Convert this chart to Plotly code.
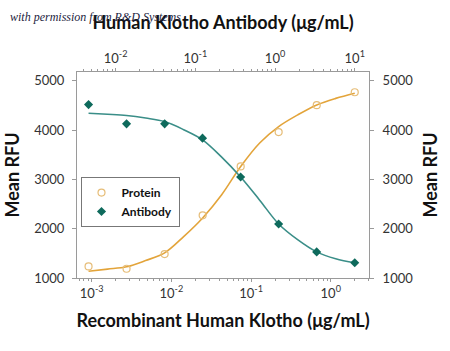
import plotly.graph_objects as go

# ---- data ----
protein_conc = [0.000914, 0.00274, 0.00823, 0.0247, 0.0741, 0.222, 0.667, 2.0]
protein_rfu = [1235, 1188, 1485, 2271, 3263, 3960, 4506, 4769]

antibody_conc = [0.00457, 0.0137, 0.0412, 0.123, 0.370, 1.11, 3.33, 10.0]
antibody_rfu = [4518, 4128, 4128, 3838, 3049, 2097, 1530, 1308]

# fitted curves
protein_fit_x = [0.000914, 0.00158, 0.00274, 0.00475, 0.00823, 0.01426, 0.0247,
                 0.0428, 0.0741, 0.1283, 0.222, 0.385, 0.667, 1.155, 2.0]
protein_fit_y = [1138, 1180, 1227, 1354, 1510, 1840, 2219, 2690, 3263, 3740,
                 4073, 4310, 4512, 4645, 4749]
antibody_fit_x = [0.00457, 0.00792, 0.0137, 0.0238, 0.0412, 0.0713, 0.123,
                  0.214, 0.370, 0.641, 1.11, 1.92, 3.33, 5.77, 10.0]
antibody_fit_y = [4344, 4322, 4296, 4245, 4174, 4010, 3804, 3453, 3049, 2580,
                  2097, 1779, 1530, 1390, 1308]

bottom_ticks = [0.001, 0.01, 0.1, 1]
bottom_labels = ["10<sup>-3</sup>", "10<sup>-2</sup>", "10<sup>-1</sup>", "10<sup>0</sup>"]
top_ticks = [0.01, 0.1, 1, 10]
top_labels = ["10<sup>-2</sup>", "10<sup>-1</sup>", "10<sup>0</sup>", "10<sup>1</sup>"]
y_ticks = [1000, 2000, 3000, 4000, 5000]

FONT = "Lato, Roboto, sans-serif"
ORANGE_M = "#E6BD78"
ORANGE_L = "#E3A43A"
TEAL_M = "#0E6A5C"
TEAL_L = "#3A8E88"
AX = "#9A9A9A"

def minor_vals(lo, hi):
    out = []
    for e in range(lo, hi + 1):
        for d in range(2, 10):
            out.append(d * 10 ** e)
    return out

fig = go.Figure()
fig.add_trace(go.Scatter(x=protein_fit_x, y=protein_fit_y, mode="lines",
                         line=dict(color=ORANGE_L, width=1.6, shape="spline"),
                         showlegend=False, hoverinfo="skip"))
fig.add_trace(go.Scatter(x=antibody_fit_x, y=antibody_fit_y, mode="lines", xaxis="x2",
                         line=dict(color=TEAL_L, width=1.6, shape="spline"),
                         showlegend=False, hoverinfo="skip"))
fig.add_trace(go.Scatter(x=protein_conc, y=protein_rfu, mode="markers", name="Protein",
                         marker=dict(symbol="circle-open", size=7,
                                     line=dict(color=ORANGE_M, width=1.2), color=ORANGE_M)))
fig.add_trace(go.Scatter(x=antibody_conc, y=antibody_rfu, mode="markers", name="Antibody",
                         xaxis="x2",
                         marker=dict(symbol="diamond", size=7, color=TEAL_M)))

tickfont = dict(family=FONT, size=13, color="#333333")
titlefont = dict(family=FONT, size=18, color="#111111", weight="bold")

fig.update_layout(
    width=450, height=351,
    margin=dict(l=77, r=75, t=72, b=73),
    paper_bgcolor="white", plot_bgcolor="white",
    font=dict(family=FONT),
    xaxis=dict(type="log", range=[-3.184, 0.48], side="bottom",
               tickvals=bottom_ticks, ticktext=bottom_labels, tickfont=tickfont,
               ticks="outside", ticklen=3, tickcolor=AX,
               minor=dict(tickvals=minor_vals(-4, 0), ticks="outside", ticklen=2, tickcolor=AX),
               showline=True, linecolor=AX, linewidth=1, showgrid=False, zeroline=False,
               title=dict(text="Recombinant Human Klotho (\u03bcg/mL)", font=titlefont, standoff=14)),
    xaxis2=dict(type="log", range=[-2.485, 1.179], side="top", overlaying="x",
                tickvals=top_ticks, ticktext=top_labels, tickfont=tickfont,
                ticks="outside", ticklen=3, tickcolor=AX,
                minor=dict(tickvals=minor_vals(-3, 1), ticks="outside", ticklen=2, tickcolor=AX),
                showline=True, linecolor=AX, linewidth=1, showgrid=False, zeroline=False,
                title=dict(text="Human Klotho Antibody (\u03bcg/mL)", font=titlefont, standoff=14)),
    yaxis=dict(range=[1000, 5180], tickvals=y_ticks, tickfont=tickfont,
               ticks="outside", ticklen=4, tickcolor=AX, ticklabelstandoff=5,
               showline=True, linecolor=AX, linewidth=1, showgrid=False, zeroline=False,
               title=dict(text="Mean RFU", font=titlefont, standoff=9)),
    yaxis2=dict(range=[1000, 5180], tickvals=y_ticks, tickfont=tickfont, overlaying="y",
                side="right", ticks="outside", ticklen=4, tickcolor=AX, ticklabelstandoff=6,
                showline=True, linecolor=AX, linewidth=1, showgrid=False, zeroline=False,
                title=dict(text="Mean RFU", font=titlefont, standoff=12)),
    legend=dict(x=0.012, y=0.49, xanchor="left", yanchor="top",
                bordercolor="#777777", borderwidth=1, bgcolor="white",
                font=dict(family=FONT, size=12, color="#111111", weight="bold"),
                itemwidth=30, tracegroupgap=2),
    annotations=[dict(text="<i>with permission from R&amp;D Systems</i>", xref="paper", yref="paper",
                      x=-0.235, y=1.265, xanchor="left", yanchor="middle", showarrow=False,
                      font=dict(family="Liberation Serif, serif", size=12, color="#1d2340"))],
)
fig.add_trace(go.Scatter(x=[1], y=[1000], yaxis="y2", mode="markers",
                         marker=dict(opacity=0), showlegend=False, hoverinfo="skip"))

fig.write_html("out.html")
